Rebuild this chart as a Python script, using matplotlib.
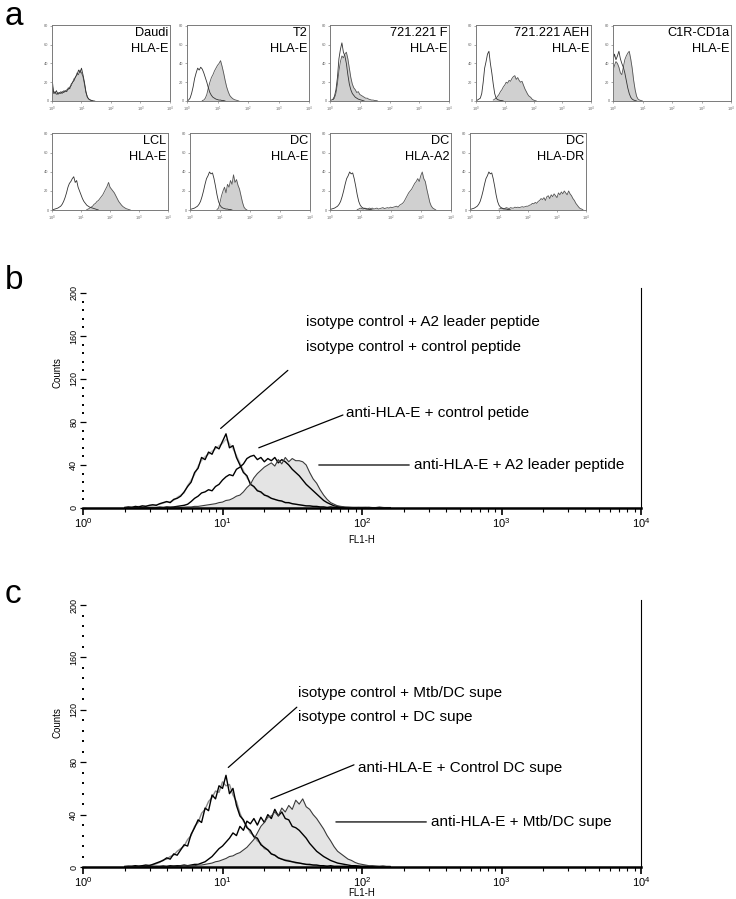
import numpy as np
import matplotlib.pyplot as plt
from matplotlib.ticker import FixedLocator, LogLocator, NullFormatter, NullLocator

plt.rcParams['font.family'] = ['Liberation Sans', 'DejaVu Sans']
plt.rcParams['mathtext.fontset'] = 'custom'
plt.rcParams['mathtext.rm'] = 'Liberation Sans'
plt.rcParams['mathtext.it'] = 'Liberation Sans'
plt.rcParams['mathtext.bf'] = 'Liberation Sans'
NARROW = ['Liberation Sans Narrow', 'Liberation Sans', 'DejaVu Sans']

# ---------------- panel a: small histograms ----------------
# counts every 0.05 decade, starting at log10(FL) = *_x0
SMALL_STEP = 0.05

daudi_iso_x0 = 0.0
daudi_iso = [25, 10, 8, 11, 7, 9, 8, 10, 9, 11, 10, 14, 13, 18, 20, 22, 26, 28, 33, 30,
             35, 28, 20, 10, 4, 2, 1, 0.5, 0, 0]
daudi_ab_x0 = 0.0
daudi_ab = [20, 8, 10, 7, 9, 8, 10, 8, 11, 10, 12, 12, 15, 16, 20, 24, 25, 30, 28, 33,
            30, 26, 18, 9, 4, 2, 1, 0.5, 0]

t2_iso_x0 = 0.0
t2_iso = [0, 1, 3, 8, 15, 24, 30, 35, 33, 36, 34, 30, 25, 20, 14, 9, 6, 4, 3, 2,
          1.5, 1, 1, 0.5, 0.5, 0]
t2_ab_x0 = 0.5
t2_ab = [0.5, 1, 3, 7, 14, 20, 25, 28, 32, 35, 38, 40, 43, 37, 30, 22, 15, 10, 6, 4,
         2.5, 1.5, 1, 0.5, 0]

f721_iso_x0 = 0.0
f721_iso = [0.5, 1, 2, 5, 12, 25, 45, 55, 62, 52, 48, 40, 28, 18, 12, 8, 6, 4, 3, 2,
            1.5, 1, 0.5, 0]
f721_ab_x0 = 0.1
f721_ab = [1, 3, 8, 18, 32, 42, 48, 46, 50, 52, 45, 35, 25, 18, 14, 12, 9, 10, 7, 6,
           5, 4, 3, 3, 2, 1.5, 1, 1, 0.5, 0.5, 0]

aeh_iso_x0 = 0.0
aeh_iso = [0, 1, 2, 3, 8, 20, 35, 42, 50, 53, 40, 30, 18, 8, 3, 1.5, 1, 0.5, 0.5, 0]
aeh_ab_x0 = 0.6
aeh_ab = [1, 2, 3, 5, 7, 10, 12, 15, 17, 20, 19, 22, 21, 24, 26, 27, 23, 25, 22, 20,
          21, 17, 13, 10, 7, 5, 4, 2, 1, 0.5, 0]

c1r_iso_x0 = 0.0
c1r_iso = [43, 50, 44, 48, 53, 45, 40, 36, 30, 22, 14, 8, 4, 2, 1, 0.5, 0]
c1r_ab_x0 = 0.0
c1r_ab = [32, 38, 42, 40, 36, 30, 28, 36, 44, 48, 51, 53, 45, 35, 22, 12, 5, 2, 1, 0.5, 0]

lcl_iso_x0 = 0.0
lcl_iso = [0, 0.5, 1, 1.5, 2, 3, 4, 6, 9, 13, 18, 24, 28, 30, 33, 35, 29, 31, 24, 20,
           16, 12, 9, 7, 5, 4, 3, 2.5, 2, 1.5, 1, 0.5, 0]
lcl_ab_x0 = 1.2
lcl_ab = [0.5, 1, 2, 3, 4, 6, 7, 9, 10, 12, 14, 16, 19, 22, 25, 29, 24, 22, 20, 18,
          15, 12, 9, 7, 5, 3.5, 2.5, 1.5, 1, 0.5, 0]

dc_iso_x0 = 0.0
dc_iso = [0.5, 1, 1.5, 2, 3, 4, 6, 9, 14, 20, 27, 33, 36, 40, 38, 39, 33, 25, 16, 9,
          5, 3, 2, 1.5, 1, 1, 0.5, 0.5, 0]
dc_e_ab_x0 = 0.9
dc_e_ab = [0.5, 2, 8, 15, 20, 24, 18, 27, 24, 31, 27, 37, 29, 32, 26, 22, 15, 8, 3, 1, 0]
dc_a2_ab_x0 = 0.9
dc_a2_ab = [0.5, 1, 2, 1.5, 1, 2, 1.5, 1, 2, 1.5, 2, 1, 1.5, 2, 1, 1.5, 2, 2.5, 1.5, 2,
            2.5, 2, 3, 2.5, 3, 3.5, 4, 3, 5, 6, 7, 9, 12, 15, 18, 20, 22, 25, 28, 30,
            33, 30, 36, 40, 33, 30, 22, 15, 8, 4, 2, 1, 0]
dc_dr_ab_x0 = 1.0
dc_dr_ab = [1, 1.5, 2, 1, 1.5, 2.5, 2, 1.5, 2.5, 2, 2, 3, 2.5, 3, 2.5, 3, 3.5, 3, 3.5, 4,
            4, 5, 5.5, 7, 6.5, 8, 7, 9, 10, 12, 11, 13, 10, 14, 15, 12, 16, 14, 17, 15,
            13, 18, 16, 19, 17, 20, 18, 16, 20, 17, 15, 12, 10, 7, 5, 3, 1.5, 1, 0]

cell_names = ['Daudi', 'T2', '721.221 F', '721.221 AEH', 'C1R-CD1a', 'LCL', 'DC', 'DC', 'DC']
markers = ['HLA-E', 'HLA-E', 'HLA-E', 'HLA-E', 'HLA-E', 'HLA-E', 'HLA-E', 'HLA-A2', 'HLA-DR']
iso_curves = [(daudi_iso_x0, daudi_iso), (t2_iso_x0, t2_iso), (f721_iso_x0, f721_iso),
              (aeh_iso_x0, aeh_iso), (c1r_iso_x0, c1r_iso), (lcl_iso_x0, lcl_iso),
              (dc_iso_x0, dc_iso), (dc_iso_x0, dc_iso), (dc_iso_x0, dc_iso)]
ab_curves = [(daudi_ab_x0, daudi_ab), (t2_ab_x0, t2_ab), (f721_ab_x0, f721_ab),
             (aeh_ab_x0, aeh_ab), (c1r_ab_x0, c1r_ab), (lcl_ab_x0, lcl_ab),
             (dc_e_ab_x0, dc_e_ab), (dc_a2_ab_x0, dc_a2_ab), (dc_dr_ab_x0, dc_dr_ab)]

# ---------------- panels b and c: large histograms ----------------
# counts every 0.025 decade starting at log10(FL1-H) = 0.30
BIG_X0 = 0.30
BIG_STEP = 0.025

b_iso_a2 = [0.5, 0.5, 1, 1, 1.5, 1.5, 2, 2, 2.5, 3, 3.5, 4.5, 5.5, 6, 7, 10, 12, 14, 21, 26,
            31, 39, 44, 48, 50, 53, 55, 58, 60, 64, 60, 55, 49, 42, 35, 28, 24, 19, 17, 14,
            13, 10, 9, 8, 7, 6, 5.5, 4.5, 4, 3.5, 3, 2.5, 2, 1.5, 1.5, 1, 1, 1, 0.5, 0.5,
            0.5, 0.5, 0.3, 0.3, 0.3, 0.3, 0.3, 0.3, 0.3, 0.5, 0.3, 0.3, 0.3, 0.5, 0.3, 0.3, 0.3]
b_iso_ctrl = [0.5, 1, 0.5, 1.5, 1, 2, 1.5, 2.5, 3, 2.5, 4, 5, 6, 5, 8, 9, 11, 15, 20, 24,
              33, 37, 47, 45, 52, 50, 57, 55, 62, 69, 56, 58, 47, 40, 33, 30, 22, 20, 16, 15,
              12, 11, 9, 8, 7, 6.5, 5, 5, 4, 3.5, 3, 2.5, 2, 2, 1.5, 1.5, 1, 1, 0.5, 1,
              0.5, 0.5, 0.5, 0.3, 0.5, 0.3, 0.3, 0.3, 0.3, 0.5, 0.3, 0.3, 0.3, 0.5, 0.3, 0.3, 0.3]
b_ctrl_pep = [0.3, 0.3, 0.5, 0.3, 0.5, 0.5, 0.3, 0.5, 0.5, 0.5, 0.8, 0.5, 1, 0.8, 1,
              1.5, 2, 2.5, 3.5, 6, 9, 11, 14, 15, 17, 16, 20, 22, 26, 29, 31, 30, 36, 38, 41,
              46, 48, 49, 45, 47, 43, 46, 44, 47, 42, 45, 43, 40, 36, 33, 30, 26, 22, 19, 16,
              13, 10, 7, 5, 3.5, 2, 1.5, 1, 0.5, 0.5, 0.5, 0.5, 0.5, 0.5,
              0.3, 0.5, 0.3, 0.3, 0.5, 0.3, 0.3, 0.3]
b_a2_pep = [0.3, 0.3, 0.3, 0.5, 0.3, 0.3, 0.5, 0.3, 0.5, 0.3, 0.5, 0.5, 0.3, 0.5, 0.5,
            0.8, 0.5, 0.8, 1, 1, 1.5, 1.5, 2, 2.5, 3, 3.5, 4, 5, 5.5, 7, 7.5, 9, 11, 12, 15,
            19, 22, 28, 32, 35, 38, 40, 42, 39, 45, 41, 47, 43, 46, 44, 44, 43, 40, 33, 27,
            23, 17, 12, 8, 5, 3.5, 2, 1.5, 1, 0.5, 0.5, 0.3, 0.5, 0.3,
            0.3, 0.5, 0.3, 0.3, 0.3, 0.5, 0.3, 0.3]

c_iso_mtb = [0.5, 0.3, 0.5, 0.5, 1, 1, 1, 1.5, 1.5, 2.5, 3.5, 5.5, 6, 8, 9, 12, 14, 16, 21, 24,
             31, 34, 41, 44, 50, 53, 58, 57, 65, 62, 63, 55, 50, 41, 35, 31, 26, 24, 20, 18,
             14, 13, 10, 9, 7, 6, 5.5, 5, 4, 3, 3, 2.5, 2, 1.5, 1.5, 1, 1,
             0.5, 1, 0.5, 0.5, 0.5, 0.3, 0.5, 0.3, 0.3, 0.5, 0.3, 0.3,
             0.3, 0.5, 0.3, 0.3, 0.3, 0.5, 0.3, 0.3]
c_iso_dc = [0.3, 0.5, 0.5, 1, 0.5, 1, 1.5, 1, 2, 3, 4, 5, 7, 6, 10, 9, 13, 17, 16, 25,
            30, 36, 34, 45, 43, 55, 52, 62, 60, 70, 56, 60, 47, 39, 36, 30, 28, 23, 22, 17,
            15, 13, 10, 9, 7, 6, 5, 4.5, 4, 3.5, 3, 2.5, 2, 2, 1.5, 1.5, 1,
            1, 0.5, 1, 0.5, 0.5, 0.5, 0.5, 0.3, 0.5, 0.3, 0.3, 0.3,
            0.5, 0.3, 0.3, 0.5, 0.3, 0.3, 0.3, 0.3]
c_ctrl_dc = [0.3, 0.5, 0.3, 0.5, 0.3, 0.5, 0.5, 0.3, 0.5, 0.5, 0.5, 0.8, 0.5, 1, 0.8, 1, 1, 1.5, 1, 1.5,
             2, 2, 3, 4, 6, 8, 11, 14, 16, 19, 22, 26, 24, 31, 28, 35, 33, 37, 32, 38,
             34, 40, 37, 44, 39, 42, 37, 36, 31, 30, 28, 25, 22, 18, 15, 12, 10, 8, 6.5, 5,
             4, 3, 2.5, 2, 1.5, 1, 1, 0.8, 0.5, 0.5, 0.3, 0.5, 0.3, 0.3, 0.5, 0.3, 0.3]
c_mtb_dc = [0.3, 0.3, 0.5, 0.3, 0.5, 0.3, 0.5, 0.5, 0.3, 0.5, 0.5, 0.3, 0.5, 0.5, 0.8, 0.5,
            0.8, 1, 0.8, 1, 1, 1.5, 1.5, 2, 2.5, 3, 4, 4.5, 5.5, 6.5, 8, 8.5, 10, 11, 13, 15,
            18, 21, 26, 31, 34, 38, 39, 42, 39, 45, 42, 47, 44, 51, 48, 52, 46, 44, 40, 37,
            33, 29, 24, 20, 15.5, 12, 10, 8, 6, 5, 3.5, 2.5, 2,
            1.5, 1, 1, 0.5, 0.5, 0.5, 0.3, 0.3]

W, H = 736, 899
fig = plt.figure(figsize=(W / 100, H / 100), dpi=100)


def px_axes(left, top, right, bottom):
    return fig.add_axes([left / W, 1 - bottom / H, (right - left) / W, (bottom - top) / H])


def channels(x0, step, vals):
    return 10 ** (x0 + step * np.arange(len(vals)))


decade_labels = [r'$10^{%d}$' % k for k in range(5)]

# panel a
small_boxes = [(52, 25, 170, 101), (187, 25, 309, 101), (330, 25, 449, 101),
               (476, 25, 591, 101), (613, 25, 731, 101),
               (52, 133, 168, 210), (190, 133, 310, 210), (330, 133, 451, 210),
               (470, 133, 586, 210)]

for box, name, marker, (xi, iso), (xa, ab) in zip(small_boxes, cell_names, markers,
                                                   iso_curves, ab_curves):
    ax = px_axes(*box)
    fa = channels(xa, SMALL_STEP, ab)
    ax.fill_between(fa, ab, color='#d0d0d0', lw=0)
    ax.plot(fa, ab, color='#555555', lw=0.6)
    ax.plot(channels(xi, SMALL_STEP, iso), iso, color='#333333', lw=0.6)
    ax.set_xscale('log')
    ax.set_xlim(1, 1e4)
    ax.set_ylim(0, 81)
    ax.set_xticks([1, 10, 100, 1000, 10000])
    ax.set_xticklabels(decade_labels)
    ax.xaxis.set_minor_locator(NullLocator())
    ax.set_yticks([0, 20, 40, 60, 80])
    ax.tick_params(length=1.5, width=0.4, labelsize=2.8, pad=1, colors='#666666')
    for s in ax.spines.values():
        s.set_color('#7a7a7a')
        s.set_linewidth(0.7)
    ax.text(0.985, 0.89, name, transform=ax.transAxes, ha='right', va='center',
            fontsize=9.2, family=NARROW)
    ax.text(0.985, 0.69, marker, transform=ax.transAxes, ha='right', va='center',
            fontsize=9.2, family=NARROW)


def big_axes(ax, ymax, ylab_y, xlab_y):
    ax.set_xscale('log')
    ax.set_xlim(1, 1e4)
    ax.set_ylim(0, ymax)
    ax.spines['top'].set_visible(False)
    ax.spines['left'].set_visible(False)
    ax.spines['bottom'].set_linewidth(1.8)
    ax.spines['right'].set_linewidth(0.8)
    ax.set_xticks([1, 10, 100, 1000, 10000])
    ax.set_xticklabels(decade_labels)
    ax.xaxis.set_minor_locator(LogLocator(base=10, subs=np.arange(2, 10)))
    ax.xaxis.set_minor_formatter(NullFormatter())
    ax.tick_params(axis='x', which='major', length=5, width=1.2, labelsize=8, pad=1)
    ax.tick_params(axis='x', which='minor', length=3, width=0.8)
    ax.set_yticks(np.arange(0, 201, 40))
    ax.yaxis.set_minor_locator(FixedLocator(np.arange(8, 200, 8)))
    ax.tick_params(axis='y', which='major', direction='inout', length=5, width=0.9,
                   labelsize=6.5, pad=1, labelrotation=90)
    ax.tick_params(axis='y', which='minor', direction='inout', length=1.5, width=1.4)
    for lab in ax.get_yticklabels():
        lab.set_family(NARROW)
        lab.set_va('center')
    ax.set_ylabel('Counts', fontsize=7, family=NARROW)
    ax.yaxis.set_label_coords(-0.036, ylab_y)
    ax.set_xlabel('FL1-H', fontsize=7, family=NARROW)
    ax.xaxis.set_label_coords(0.5, xlab_y)


line_kw = dict(arrowstyle='-', lw=0.9, color='black', shrinkA=0, shrinkB=0)
TXT = 11

# panel b
ax_b = px_axes(83, 287.6, 641, 508)
fb = channels(BIG_X0, BIG_STEP, b_a2_pep)
ax_b.fill_between(fb, b_a2_pep, color='#e4e4e4', lw=0)
ax_b.plot(channels(BIG_X0, BIG_STEP, b_iso_a2), b_iso_a2, color='#bdbdbd', lw=1.0)
ax_b.plot(channels(BIG_X0, BIG_STEP, b_iso_ctrl), b_iso_ctrl, color='black', lw=1.0)
ax_b.plot(channels(BIG_X0, BIG_STEP, b_ctrl_pep), b_ctrl_pep, color='black', lw=1.0)
ax_b.plot(fb, b_a2_pep, color='#3a3a3a', lw=0.8)
big_axes(ax_b, 205, 0.613, -0.123)

ax_b.annotate('', xy=(9.7, 74), xytext=(29.4, 128), arrowprops=line_kw)
ax_b.text(39.5, 173, 'isotype control + A2 leader peptide', fontsize=TXT, va='center')
ax_b.text(39.5, 150, 'isotype control + control peptide', fontsize=TXT, va='center')
ax_b.annotate('', xy=(18.2, 56), xytext=(73, 86.5), arrowprops=line_kw)
ax_b.text(76.7, 88.4, 'anti-HLA-E + control petide', fontsize=TXT, va='center')
ax_b.annotate('', xy=(49, 40), xytext=(218, 40), arrowprops=line_kw)
ax_b.text(237, 40, 'anti-HLA-E + A2 leader peptide', fontsize=TXT, va='center')

# panel c
ax_c = px_axes(83, 599.8, 641, 867)
fc = channels(BIG_X0, BIG_STEP, c_mtb_dc)
ax_c.fill_between(fc, c_mtb_dc, color='#e4e4e4', lw=0)
ax_c.plot(channels(BIG_X0, BIG_STEP, c_iso_mtb), c_iso_mtb, color='#8a8a8a', lw=1.0)
ax_c.plot(channels(BIG_X0, BIG_STEP, c_iso_dc), c_iso_dc, color='black', lw=1.0)
ax_c.plot(channels(BIG_X0, BIG_STEP, c_ctrl_dc), c_ctrl_dc, color='black', lw=1.0)
ax_c.plot(fc, c_mtb_dc, color='#3a3a3a', lw=0.8)
big_axes(ax_c, 204, 0.54, -0.078)

ax_c.annotate('', xy=(11.0, 76), xytext=(34.1, 122), arrowprops=line_kw)
ax_c.text(34.6, 132.8, 'isotype control + Mtb/DC supe', fontsize=TXT, va='center')
ax_c.text(34.6, 114.5, 'isotype control + DC supe', fontsize=TXT, va='center')
ax_c.annotate('', xy=(22.2, 52), xytext=(87.6, 78), arrowprops=line_kw)
ax_c.text(93.6, 75.6, 'anti-HLA-E + Control DC supe', fontsize=TXT, va='center')
ax_c.annotate('', xy=(65, 34.4), xytext=(289, 34.4), arrowprops=line_kw)
ax_c.text(313, 34.4, 'anti-HLA-E + Mtb/DC supe', fontsize=TXT, va='center')

# panel letters
fig.text(0.006, 1 - 25 / H, 'a', fontsize=24, va='baseline')
fig.text(0.006, 1 - 289 / H, 'b', fontsize=24, va='baseline')
fig.text(0.006, 1 - 603 / H, 'c', fontsize=24, va='baseline')

fig.savefig('out.png', dpi=100)
